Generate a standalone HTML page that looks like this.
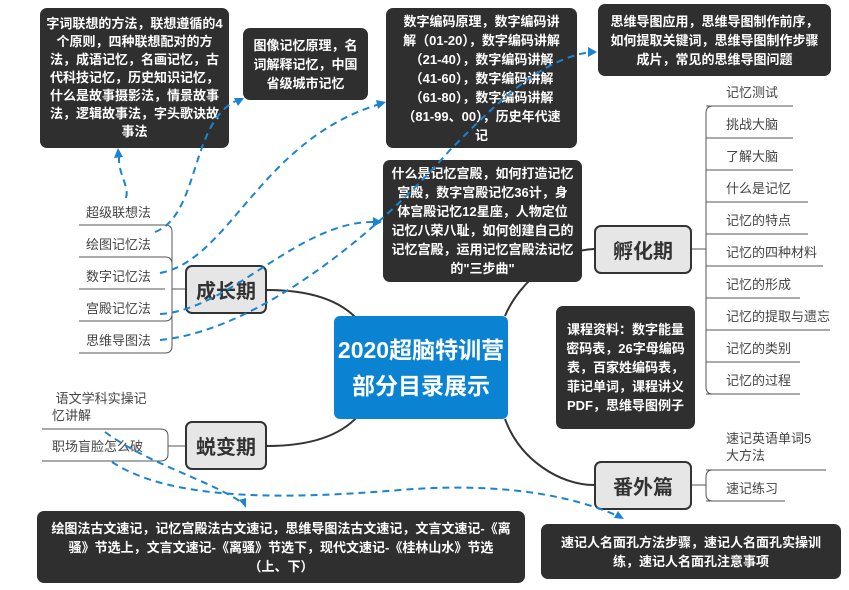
<!DOCTYPE html>
<html><head><meta charset="utf-8"><style>
body{margin:0;width:849px;height:590px;background:#fff;position:relative;overflow:hidden;font-family:"Liberation Sans","Noto Sans CJK SC",sans-serif}
.d{position:absolute;background:#2f2f2f;color:#fff;font-weight:bold;font-size:13px;line-height:19px;text-align:center;border-radius:7px;display:flex;align-items:center;justify-content:center;box-sizing:border-box;padding:4px 8px}
.t{position:absolute;background:#e6e6e6;border:2px solid #333;border-radius:7px;font-weight:bold;font-size:20px;color:#333;display:flex;align-items:center;justify-content:center;box-sizing:border-box}
.l{position:absolute;font-size:13px;color:#444;line-height:17px;white-space:nowrap}
svg{position:absolute;left:0;top:0}
</style></head><body>
<svg width="849" height="590">
<g fill="none" stroke="#333" stroke-width="2">
<path d="M267 290 C310 290 340 300 358 320"/>
<path d="M267 446 C310 446 340 436 358 416"/>
<path d="M505 316 C520 280 560 250 594 249"/>
<path d="M505 419 C520 460 560 485 594 485"/>
</g>
<g fill="none" stroke="#555" stroke-width="1">
<path d="M79 225 H165 M79 257 H165 M79 289 H165 M79 321 H165 M79 353 H165"/>
<path d="M165 225 Q172 225 172 232 V346 Q172 353 165 353 M165 257 Q172 257 172 264 M165 321 Q172 321 172 314 M172 289 H185"/>
<path d="M42 429 H160 M42 461 H160 M160 429 Q168 429 168 436 V454 Q168 461 160 461 M168 446 H185"/>
<path d="M706 106 H793 M706 138 H793 M706 170 H793 M706 202 H808 M706 234 H808 M706 266 H823 M706 298 H800 M706 330 H830 M706 362 H800 M706 394 H800"/>
<path d="M713 106 Q706 106 706 113 V387 Q706 394 713 394 M692 249 H706"/>
<path d="M706 470 H826 M706 501 H785 M713 470 Q706 470 706 477 V494 Q706 501 713 501 M692 485 H706"/>
</g>
</svg>
<div class="d" style="left:40px;top:8px;width:189px;height:140px;padding:4px 5px;line-height:18px">字词联想的方法，联想遵循的4个原则，四种联想配对的方法，成语记忆，名画记忆，古代科技记忆，历史知识记忆，什么是故事摄影法，情景故事法，逻辑故事法，字头歌诀故事法</div>
<div class="d" style="left:243px;top:28px;width:125px;height:72px">图像记忆原理，名词解释记忆，中国省级城市记忆</div>
<div class="d" style="left:386px;top:8px;width:191px;height:140px;padding:4px 12px">数字编码原理，数字编码讲解（01-20），数字编码讲解（21-40），数字编码讲解（41-60），数字编码讲解（61-80），数字编码讲解（81-99、00），历史年代速记</div>
<div class="d" style="left:598px;top:4px;width:233px;height:72px">思维导图应用，思维导图制作前序，如何提取关键词，思维导图制作步骤成片，常见的思维导图问题</div>
<div class="d" style="left:383px;top:160px;width:199px;height:122px">什么是记忆宫殿，如何打造记忆宫殿，数字宫殿记忆36计，身体宫殿记忆12星座，人物定位记忆八荣八耻，如何创建自己的记忆宫殿，运用记忆宫殿法记忆的"三步曲"</div>
<div class="d" style="left:556px;top:306px;width:139px;height:123px">课程资料：数字能量密码表，26字母编码表，百家姓编码表，菲记单词，课程讲义PDF，思维导图例子</div>
<div class="d" style="left:37px;top:511px;width:488px;height:72px;padding:4px 14px">绘图法古文速记，记忆宫殿法古文速记，思维导图法古文速记，文言文速记-《离骚》节选上，文言文速记-《离骚》节选下，现代文速记-《桂林山水》节选（上、下）</div>
<div class="d" style="left:541px;top:524px;width:300px;height:55px;padding:4px 16px">速记人名面孔方法步骤，速记人名面孔实操训练，速记人名面孔注意事项</div>
<div style="position:absolute;left:334px;top:316px;width:174px;height:103px;background:#0a84d2;border-radius:6px;color:#fff;font-weight:bold;font-size:23px;line-height:36px;text-align:center;display:flex;align-items:center;justify-content:center;white-space:nowrap">2020超脑特训营<br>部分目录展示</div>
<div class="t" style="left:185px;top:265px;width:82px;height:49px">成长期</div>
<div class="t" style="left:185px;top:421px;width:82px;height:49px">蜕变期</div>
<div class="t" style="left:594px;top:225px;width:98px;height:49px">孵化期</div>
<div class="t" style="left:594px;top:461px;width:98px;height:49px">番外篇</div>
<div class="l" style="left:86px;top:204px">超级联想法</div>
<div class="l" style="left:86px;top:236px">绘图记忆法</div>
<div class="l" style="left:86px;top:268px">数字记忆法</div>
<div class="l" style="left:86px;top:300px">宫殿记忆法</div>
<div class="l" style="left:86px;top:332px">思维导图法</div>
<div class="l" style="left:52px;top:390px">&nbsp;语文学科实操记<br>忆讲解</div>
<div class="l" style="left:52px;top:438px">职场盲脸怎么破</div>
<div class="l" style="left:726px;top:84px">记忆测试</div>
<div class="l" style="left:726px;top:116px">挑战大脑</div>
<div class="l" style="left:726px;top:148px">了解大脑</div>
<div class="l" style="left:726px;top:180px">什么是记忆</div>
<div class="l" style="left:726px;top:212px">记忆的特点</div>
<div class="l" style="left:726px;top:244px">记忆的四种材料</div>
<div class="l" style="left:726px;top:276px">记忆的形成</div>
<div class="l" style="left:726px;top:308px">记忆的提取与遗忘</div>
<div class="l" style="left:726px;top:340px">记忆的类别</div>
<div class="l" style="left:726px;top:372px">记忆的过程</div>
<div class="l" style="left:726px;top:430px">速记英语单词5<br>大方法</div>
<div class="l" style="left:726px;top:480px">速记练习</div>
<svg width="849" height="590">
<g fill="none" stroke="#1a84d0" stroke-width="2" stroke-dasharray="7,5">
<path d="M126 198 C130 185 115 170 120 152"/>
<path d="M155 232 C200 215 190 120 238 100"/>
<path d="M160 273 C230 260 260 140 380 104"/>
<path d="M160 314 C230 310 300 220 375 222"/>
<path d="M160 340 C260 330 380 230 450 150 C500 100 540 60 590 52"/>
<path d="M105 432 C150 465 210 480 244 504"/>
<path d="M112 462 C170 500 280 500 400 490 C500 482 570 495 618 516"/>
</g>
<g fill="#1a84d0">
<path d="M118 148 L114 158 L123 157 Z"/>
<path d="M244 98 L234 98 L238 106 Z"/>
<path d="M386 102 L376 100 L378 109 Z"/>
<path d="M382 222 L373 217 L373 227 Z"/>
<path d="M597 52 L588 47 L588 57 Z"/>
<path d="M246 508 L239 500 L246 498 Z"/>
<path d="M624 519 L614 518 L618 511 Z"/>
</g>
</svg>
</body></html>
